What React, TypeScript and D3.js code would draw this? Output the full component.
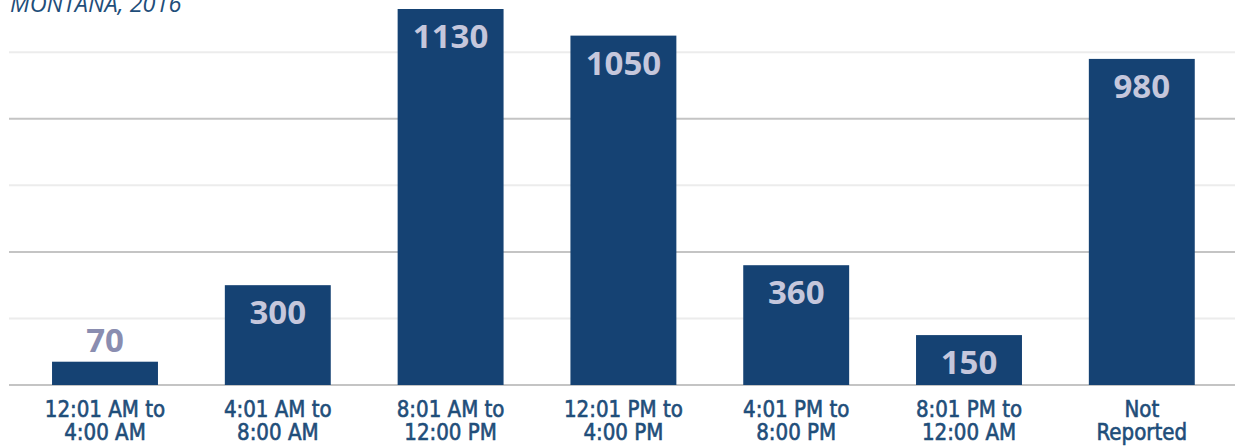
import React from "react";
import * as d3 from "d3";

const categories = [
  ["12:01 AM to", "4:00 AM"],
  ["4:01 AM to", "8:00 AM"],
  ["8:01 AM to", "12:00 PM"],
  ["12:01 PM to", "4:00 PM"],
  ["4:01 PM to", "8:00 PM"],
  ["8:01 PM to", "12:00 AM"],
  ["Not", "Reported"],
];
const values = [70, 300, 1130, 1050, 360, 150, 980];
const gridTicks = [200, 400, 600, 800, 1000, 1200];
const title = "MONTANA, 2016";

const W = 1235;
const H = 447;

export default function App() {
  const x = d3
    .scaleBand<number>()
    .domain(values.map((_, i) => i))
    .range([18.6, 1228.2])
    .paddingInner(0.387)
    .paddingOuter(0.1935);
  const y = d3.scaleLinear().domain([0, 1130]).range([385, 9]);
  const bw = x.bandwidth();

  return (
    <svg
      width={W}
      height={H}
      style={{ position: "absolute", left: 0, top: 0, background: "#fff" }}
    >
      {gridTicks.map((t, i) => (
        <line
          key={t}
          x1={9}
          x2={W}
          y1={y(t)}
          y2={y(t)}
          stroke={i % 2 === 1 ? "#c4c4c4" : "#ececec"}
          strokeWidth={2}
        />
      ))}
      <line x1={9} x2={W} y1={y(0)} y2={y(0)} stroke="#c4c4c4" strokeWidth={2} />
      <text
        x={10}
        y={12}
        fill="#1f4e7a"
        fontFamily="'Open Sans', sans-serif"
        fontStyle="italic"
        fontSize={23.5}
      >
        {title}
      </text>
      {values.map((v, i) => {
        const x0 = x(i)!;
        const cx = x0 + bw / 2;
        const top = y(v);
        const inside = y(0) - top > 40;
        return (
          <g key={i}>
            <rect x={x0} y={top} width={bw} height={y(0) - top} fill="#154273" />
            <text
              x={cx}
              y={inside ? top + 39 : top - 10}
              textAnchor="middle"
              fill={inside ? "#c5c7dc" : "#8a8db0"}
              fontFamily="'Open Sans', sans-serif"
              fontWeight={700}
              fontSize={33}
            >
              {v}
            </text>
            <g transform={`translate(${cx},0) scale(0.96,1)`}>
              <text
                textAnchor="middle"
                fill="#1f4e7a"
                stroke="#1f4e7a"
                strokeWidth={0.6}
                fontFamily="'Liberation Sans Narrow', 'DejaVu Sans Condensed', sans-serif"
                fontSize={23}
              >
                <tspan x={0} y={417}>
                  {categories[i][0]}
                </tspan>
                <tspan x={0} y={440}>
                  {categories[i][1]}
                </tspan>
              </text>
            </g>
          </g>
        );
      })}
    </svg>
  );
}
